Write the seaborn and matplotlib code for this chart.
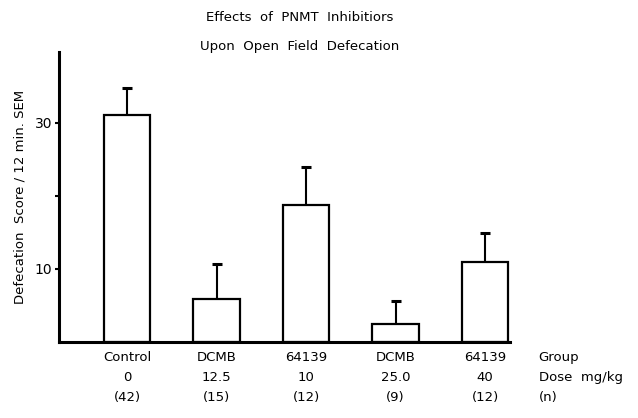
import seaborn as sns
import matplotlib.pyplot as plt
import matplotlib.transforms as mtransforms
import pandas as pd

groups = ['Control', 'DCMB', '64139', 'DCMB', '64139']
doses = ['0', '12.5', '10', '25.0', '40']
n_sizes = ['(42)', '(15)', '(12)', '(9)', '(12)']
means = [31.0, 5.9, 18.8, 2.5, 11.0]
sems = [3.8, 4.8, 5.2, 3.1, 3.9]

df = pd.DataFrame({'pos': range(len(groups)), 'score': means, 'sem': sems})
df['top'] = df['score'] + df['sem']

sns.set_theme(style="white")
plt.rcParams['font.family'] = ['DejaVu Sans']
plt.rcParams['text.color'] = 'black'
plt.rcParams['axes.labelcolor'] = 'black'
plt.rcParams['ytick.color'] = 'black'

fig = plt.figure(figsize=(6.38, 4.18), dpi=100)
ax = fig.add_axes([0.0925, 0.182, 0.707, 0.694])

sns.barplot(data=df, x='pos', y='score', color='white', edgecolor='black',
            linewidth=1.6, width=0.52, errorbar=None, ax=ax)
# SEM drawn upward only, cap on top
ax.vlines(df['pos'], df['score'], df['top'], color='black', linewidth=1.5)
ax.plot(df['pos'], df['top'], ls='none', marker='_', ms=7, mew=2.2,
        color='black')

ax.set_xlim(-0.76, 4.28)
ax.set_ylim(0, 39.7)
ax.set_yticks([10, 20, 30])
ax.set_yticklabels(['10', '', '30'], fontsize=10)
ax.tick_params(axis='y', direction='out', length=3, width=1.5, pad=2, left=True)
ax.set_xticks([])
ax.set_xlabel('')
ax.set_ylabel('Defecation  Score / 12 min. SEM', fontsize=9.5, labelpad=6)

for side in ['top', 'right']:
    ax.spines[side].set_visible(False)
for side in ['left', 'bottom']:
    ax.spines[side].set_linewidth(2.2)
    ax.spines[side].set_color('black')

trans = mtransforms.blended_transform_factory(ax.transData, ax.transAxes)
rows = [(groups, 'Group', -0.052), (doses, 'Dose  mg/kg', -0.121),
        (n_sizes, '(n)', -0.193)]
for labels, name, yy in rows:
    for i, lab in enumerate(labels):
        ax.text(i, yy, lab, transform=trans, ha='center', va='center',
                fontsize=9.5, clip_on=False)
    ax.text(4.6, yy, name, transform=trans, ha='left', va='center',
            fontsize=9.5, clip_on=False)

fig.text(0.47, 0.957, 'Effects  of  PNMT  Inhibitiors', ha='center',
         va='center', fontsize=9.5)
fig.text(0.47, 0.888, 'Upon  Open  Field  Defecation', ha='center',
         va='center', fontsize=9.5)

fig.savefig('out.png', dpi=100)
